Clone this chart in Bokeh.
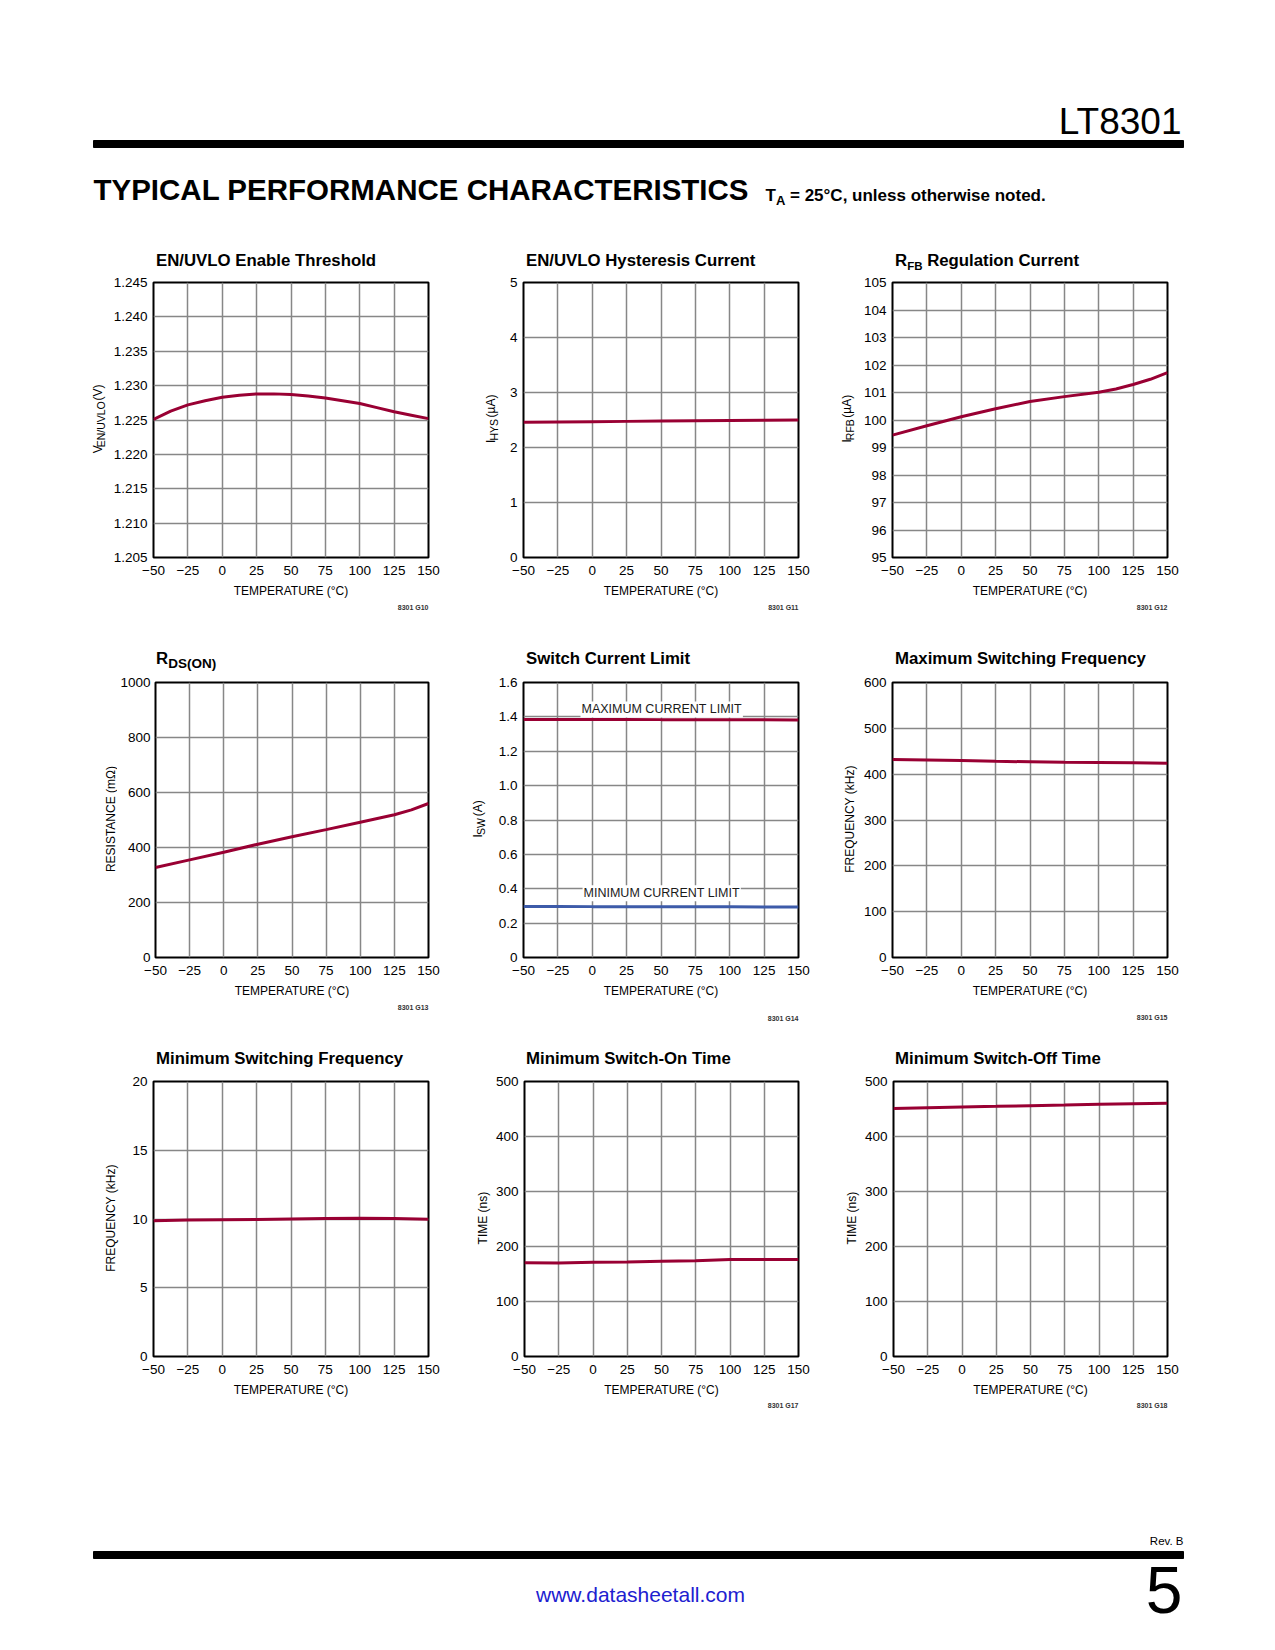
import math
from bokeh.plotting import figure
from bokeh.layouts import column, row
from bokeh.models import Range1d, FixedTicker, Label, CustomJSTickFormatter
from bokeh.core.properties import value
from bokeh.embed import file_html
from bokeh.resources import INLINE

FONT = "Liberation Sans"
CURVE = "#990033"
BLUE = "#3D5BA9"
GRID = "#878787"

# ---------------- data ----------------
TEMPS = [-50, -25, 0, 25, 50, 75, 100, 125, 150]
X_TICK_LABELS = ["\u221250", "\u221225", "0", "25", "50", "75", "100", "125", "150"]

# G10 EN/UVLO enable threshold
en_temp = [-50, -37.5, -25, -12.5, 0, 12.5, 25, 37.5, 50, 62.5, 75, 87.5, 100, 112.5, 125, 137.5, 150]
en_volt = [1.2251, 1.2263, 1.2272, 1.2278, 1.2283, 1.2286, 1.2288, 1.2288, 1.2287,
           1.2285, 1.2282, 1.2278, 1.2274, 1.2268, 1.2262, 1.2257, 1.2252]
en_ticks = [1.205, 1.210, 1.215, 1.220, 1.225, 1.230, 1.235, 1.240, 1.245]
en_tick_labels = ["1.205", "1.210", "1.215", "1.220", "1.225", "1.230", "1.235", "1.240", "1.245"]

# G11 EN/UVLO hysteresis current
hys_temp = [-50, -25, 0, 25, 50, 75, 100, 125, 150]
hys_ua = [2.46, 2.465, 2.47, 2.475, 2.48, 2.485, 2.49, 2.495, 2.50]
hys_ticks = [0, 1, 2, 3, 4, 5]
hys_tick_labels = ["0", "1", "2", "3", "4", "5"]

# G12 RFB regulation current
rfb_temp = [-50, -25, 0, 25, 50, 75, 100, 112.5, 125, 137.5, 150]
rfb_ua = [99.45, 99.79, 100.12, 100.41, 100.67, 100.85, 101.01, 101.13, 101.29, 101.48, 101.72]
rfb_ticks = [95, 96, 97, 98, 99, 100, 101, 102, 103, 104, 105]
rfb_tick_labels = ["95", "96", "97", "98", "99", "100", "101", "102", "103", "104", "105"]

# G13 RDS(ON)
rds_temp = [-50, -25, 0, 25, 50, 75, 100, 125, 137.5, 150]
rds_mohm = [327, 355, 383, 412, 439, 465, 492, 519, 537, 560]
rds_ticks = [0, 200, 400, 600, 800, 1000]
rds_tick_labels = ["0", "200", "400", "600", "800", "1000"]

# G14 switch current limit
isw_temp = [-50, -25, 0, 25, 50, 75, 100, 125, 150]
isw_max = [1.385, 1.385, 1.385, 1.385, 1.384, 1.384, 1.383, 1.383, 1.382]
isw_min = [0.297, 0.297, 0.296, 0.296, 0.296, 0.295, 0.295, 0.294, 0.294]
isw_ticks = [0, 0.2, 0.4, 0.6, 0.8, 1.0, 1.2, 1.4, 1.6]
isw_tick_labels = ["0", "0.2", "0.4", "0.6", "0.8", "1.0", "1.2", "1.4", "1.6"]
isw_curve_names = ["MAXIMUM CURRENT LIMIT", "MINIMUM CURRENT LIMIT"]
isw_name_pos = [1.443, 0.374]

# G15 maximum switching frequency
fmax_temp = [-50, -25, 0, 25, 50, 75, 100, 125, 150]
fmax_khz = [432, 431, 430, 428, 427, 426, 425.5, 425, 424]
fmax_ticks = [0, 100, 200, 300, 400, 500, 600]
fmax_tick_labels = ["0", "100", "200", "300", "400", "500", "600"]

# G16 minimum switching frequency
fmin_temp = [-50, -25, 0, 25, 50, 75, 100, 125, 150]
fmin_khz = [9.88, 9.92, 9.95, 9.97, 10.0, 10.03, 10.05, 10.04, 9.98]
fmin_ticks = [0, 5, 10, 15, 20]
fmin_tick_labels = ["0", "5", "10", "15", "20"]

# G17 minimum switch-on time
ton_temp = [-50, -25, 0, 25, 50, 75, 100, 125, 150]
ton_ns = [170.3, 170.0, 171.5, 172.0, 173.3, 174.0, 176.4, 176.4, 176.4]
# G18 minimum switch-off time
toff_temp = [-50, -25, 0, 25, 50, 75, 100, 125, 150]
toff_ns = [451.0, 452.3, 453.7, 454.8, 456.0, 457.2, 458.5, 459.5, 460.4]
time_ticks = [0, 100, 200, 300, 400, 500]
time_tick_labels = ["0", "100", "200", "300", "400", "500"]

# ---------------- approximate text metrics (Arial / Liberation Sans) ----------------
REG = {' ': 278, '(': 333, ')': 333, '/': 278, 'A': 667, 'B': 667, 'E': 667, 'F': 611,
       'H': 722, 'I': 278, 'L': 556, 'N': 722, 'O': 778, 'R': 722, 'S': 667, 'U': 722,
       'V': 667, 'W': 944, 'Y': 667, '\u00b5': 576, 'C': 722, 'T': 611, 'M': 833}
BOLD = {'R': 722, 'F': 611, 'B': 722, 'D': 722, 'S': 667, '(': 333, ')': 333, 'O': 778,
        'N': 722, ' ': 278, 'T': 611, 'A': 722}


def text_w(s, size, bold=False):
    t = BOLD if bold else REG
    return sum(t.get(c, 556) for c in s) / 1000.0 * size


# ---------------- page geometry (pixels) ----------------
COL_X = [(0, 153, 428, 460), (460, 523, 798, 830), (830, 892, 1167, 1267)]   # start, frame L, frame R, end
ROW_Y = [(220, 282, 557, 620, 260), (620, 682, 957, 1030, 658), (1030, 1081, 1356, 1430, 1058)]
CHART_BL = [[44, 20, 33], [36, 32, 33], [28, 31, 31]]
CHART_STANDOFF = [[6, 6, 6], [5, 6, 6], [6, 6, 6]]
TOP_B, BOT_B = 10, 45
PAGE_W = 1267
TITLE_SIZE = 16.8
STRIP_K = 0.9   # observed vertical scale of the narrow label strips


def page_fig(x0, x1, y0, y1, up=False):
    yr = Range1d(-y1, -y0) if up else Range1d(y1, y0)
    d = figure(width=int(x1 - x0), height=int(y1 - y0), x_range=Range1d(x0, x1), y_range=yr,
               output_backend="svg", toolbar_location=None, min_border=0,
               x_axis_location=None, y_axis_location=None)
    d.grid.visible = False
    d.outline_line_color = None
    d.background_fill_color = "white"
    d.border_fill_color = "white"
    return d


def ptext(d, x, y, txt, size, bold=False, align="left", angle=0.0, color="black", font=FONT):
    d.text(x=[x], y=[y], text=[txt], text_font=value(font), text_font_size=f"{size}px",
           text_font_style="bold" if bold else "normal", text_align=align,
           text_baseline="middle", text_color=color, angle=angle)


def fmt(ticks, labels):
    return CustomJSTickFormatter(args=dict(tv=ticks, tl=labels), code="""
        for (let i = 0; i < tv.length; i++) {
            if (Math.abs(tick - tv[i]) < 1e-7) { return tl[i]; }
        }
        return '';
    """)


def chart_fig(c, r, ymin, ymax, yticks, ylabels):
    cs, fl, fr, ce = COL_X[c]
    r0, ft, fb, r1, _ = ROW_Y[r]
    bl = CHART_BL[r][c]
    w = ce - (fl - bl)
    h = (fb + BOT_B) - (ft - TOP_B)
    p = figure(width=w, height=h, x_range=Range1d(-50, 150), y_range=Range1d(ymin, ymax),
               output_backend="svg", toolbar_location=None,
               min_border_left=bl, min_border_right=ce - fr, min_border_top=TOP_B, min_border_bottom=BOT_B)
    p.background_fill_color = "white"
    p.border_fill_color = "white"
    p.outline_line_color = "black"
    p.outline_line_width = 2
    p.xaxis.ticker = FixedTicker(ticks=TEMPS)
    p.xaxis.formatter = fmt(TEMPS, X_TICK_LABELS)
    p.yaxis.ticker = FixedTicker(ticks=yticks)
    p.yaxis.formatter = fmt(yticks, ylabels)
    p.xgrid.ticker = FixedTicker(ticks=TEMPS)
    p.ygrid.ticker = FixedTicker(ticks=yticks)
    p.grid.grid_line_color = GRID
    p.grid.grid_line_width = 1.5
    for ax in (p.xaxis[0], p.yaxis[0]):
        ax.axis_line_color = None
        ax.major_tick_line_color = None
        ax.minor_tick_line_color = None
        ax.major_tick_out = 0
        ax.major_tick_in = 0
        ax.major_label_text_font = FONT
        ax.major_label_text_font_size = "13.5px"
        ax.major_label_text_color = "black"
    p.xaxis.major_label_standoff = 8
    p.yaxis.major_label_standoff = CHART_STANDOFF[r][c]
    p.xaxis.axis_label = "TEMPERATURE (\u00b0C)"
    p.xaxis.axis_label_text_font = FONT
    p.xaxis.axis_label_text_font_size = "12px"
    p.xaxis.axis_label_text_font_style = "normal"
    p.xaxis.axis_label_text_color = "black"
    p.xaxis.axis_label_standoff = 6
    return p


# strips per row
tops, bots, lefts = [], [], {}
for r, (r0, ft, fb, r1, _) in enumerate(ROW_Y):
    tops.append(page_fig(0, PAGE_W, r0, ft - TOP_B))
    bots.append(page_fig(0, PAGE_W, fb + BOT_B, r1))
    for c, (cs, fl, fr, ce) in enumerate(COL_X):
        lefts[(r, c)] = page_fig(cs, fl - CHART_BL[r][c], ft - TOP_B, fb + BOT_B, up=True)

charts = {}


def split_lead(txt, size, bold):
    s = txt.lstrip(" ")
    return text_w(txt[:len(txt) - len(s)], size, bold), s


def decorate(c, r, title, ylab, ylab_x, foot, foot_y):
    cs, fl, fr, ce = COL_X[c]
    r0, ft, fb, r1, tc = ROW_Y[r]
    x = fl + 2.5
    for txt, size, dy in title:
        lead, s = split_lead(txt, size, True)
        x += lead
        ptext(tops[r], x, tc + dy, s, size, bold=True)
        x += text_w(s, size, bold=True)
    # vertical label, drawn in the left strip (its y axis points up: -page_y)
    ls = lefts[(r, c)]
    top = ft - TOP_B
    total = sum(text_w(t, s) for t, s, d in ylab)
    pos = (ft + fb) / 2 + total / 2          # page y of the bottom end of the label
    for txt, size, dx in ylab:
        lead, s = split_lead(txt, size, False)
        pos -= lead
        w = text_w(s, size)
        centre = pos - w / 2
        ptext(ls, ylab_x + dx, -(top + (centre - top) / STRIP_K), s, size,
              align="center", angle=math.pi / 2)
        pos -= w
    if foot:
        ptext(bots[r], fr, foot_y, foot, 7, bold=True, align="right", color="#333333")


SUB = 10.5
AX = 12
SDX = 3.0
TS = TITLE_SIZE

p = chart_fig(0, 0, 1.205, 1.245, en_ticks, en_tick_labels)
p.line(en_temp, en_volt, line_color=CURVE, line_width=3)
decorate(0, 0, [("EN/UVLO Enable Threshold", TS, 0)],
         [("V", AX, 0), ("EN/UVLO", SUB, SDX), (" (V)", AX, 0)], 97, "8301 G10", 607)
charts[(0, 0)] = p

p = chart_fig(1, 0, 0, 5, hys_ticks, hys_tick_labels)
p.line(hys_temp, hys_ua, line_color=CURVE, line_width=3)
decorate(1, 0, [("EN/UVLO Hysteresis Current", TS, 0)],
         [("I", AX, 0), ("HYS", SUB, SDX), (" (\u00b5A)", AX, 0)], 490, "8301 G11", 607)
charts[(0, 1)] = p

p = chart_fig(2, 0, 95, 105, rfb_ticks, rfb_tick_labels)
p.line(rfb_temp, rfb_ua, line_color=CURVE, line_width=3)
decorate(2, 0, [("R", TS, 0), ("FB", 11.5, 5.5), (" Regulation Current", TS, 0)],
         [("I", AX, 0), ("RFB", SUB, SDX), (" (\u00b5A)", AX, 0)], 846.7, "8301 G12", 607)
charts[(0, 2)] = p

p = chart_fig(0, 1, 0, 1000, rds_ticks, rds_tick_labels)
p.line(rds_temp, rds_mohm, line_color=CURVE, line_width=3)
decorate(0, 1, [("R", TS, 0), ("DS(ON)", 13.5, 4.5)],
         [("RESISTANCE (m\u03a9)", AX, 0)], 110.5, "8301 G13", 1007)
charts[(1, 0)] = p

p = chart_fig(1, 1, 0, 1.6, isw_ticks, isw_tick_labels)
p.line(isw_temp, isw_max, line_color=CURVE, line_width=3)
p.line(isw_temp, isw_min, line_color=BLUE, line_width=3)
for name, yv in zip(isw_curve_names, isw_name_pos):
    p.add_layout(Label(x=50.5, y=yv, text=name, text_font=FONT, text_font_size="12.5px",
                       text_align="center", text_baseline="middle", text_color="#1a1a1a",
                       background_fill_color="white", padding=1))
decorate(1, 1, [("Switch Current Limit", TS, 0)],
         [("I", AX, 0), ("SW", SUB, SDX), (" (A)", AX, 0)], 477.7, "8301 G14", 1018)
charts[(1, 1)] = p

p = chart_fig(2, 1, 0, 600, fmax_ticks, fmax_tick_labels)
p.line(fmax_temp, fmax_khz, line_color=CURVE, line_width=3)
decorate(2, 1, [("Maximum Switching Frequency", TS, 0)],
         [("FREQUENCY (kHz)", AX, 0)], 849.3, "8301 G15", 1017)
charts[(1, 2)] = p

p = chart_fig(0, 2, 0, 20, fmin_ticks, fmin_tick_labels)
p.line(fmin_temp, fmin_khz, line_color=CURVE, line_width=3)
decorate(0, 2, [("Minimum Switching Frequency", TS, 0)],
         [("FREQUENCY (kHz)", AX, 0)], 110, None, 0)
charts[(2, 0)] = p

p = chart_fig(1, 2, 0, 500, time_ticks, time_tick_labels)
p.line(ton_temp, ton_ns, line_color=CURVE, line_width=3)
decorate(1, 2, [("Minimum Switch-On Time", TS, 0)],
         [("TIME (ns)", AX, 0)], 482.7, "8301 G17", 1405)
charts[(2, 1)] = p

p = chart_fig(2, 2, 0, 500, time_ticks, time_tick_labels)
p.line(toff_temp, toff_ns, line_color=CURVE, line_width=3)
decorate(2, 2, [("Minimum Switch-Off Time", TS, 0)],
         [("TIME (ns)", AX, 0)], 851.7, "8301 G18", 1405)
charts[(2, 2)] = p

# ---------------- page header / footer ----------------
head = page_fig(0, PAGE_W, 0, 220)
head.quad(left=[93], right=[1183], top=[140], bottom=[147], color="black")
ptext(head, 1181, 121, "LT8301", 37, align="right")
ptext(head, 93, 189, "TYPICAL PERFORMANCE CHARACTERISTICS", 29.5, bold=True)
ptext(head, 765, 195, "T", 17, bold=True)
tw = text_w("T", 17, True)
ptext(head, 765 + tw, 200, "A", 13, bold=True)
aw = text_w("A", 13, True)
lead, rest = split_lead(" = 25\u00b0C, unless otherwise noted.", 17, True)
ptext(head, 765 + tw + aw + lead, 195, rest, 17, bold=True)

foot = page_fig(0, PAGE_W, 1430, 1642)
foot.quad(left=[93], right=[1183], top=[1551], bottom=[1558], color="black")
ptext(foot, 1183, 1540, "Rev. B", 11.5, align="right")
ptext(foot, 1182, 1589, "5", 66, align="right")
ptext(foot, 640, 1594, "www.datasheetall.com", 21, align="center", color="#2020D0")

rows = [head]
for r in range(3):
    mid = []
    for c in range(3):
        mid.append(lefts[(r, c)])
        mid.append(charts[(r, c)])
    rows.append(tops[r])
    rows.append(row(*mid))
    rows.append(bots[r])
rows.append(foot)
layout = column(*rows)

open("out.html", "w").write(file_html(layout, INLINE))
